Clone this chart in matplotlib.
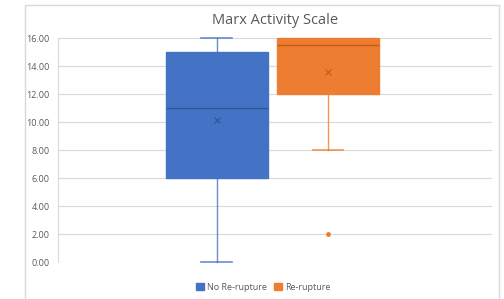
import matplotlib.pyplot as plt
from matplotlib.patches import Rectangle, Patch

groups = ["No Re-rupture", "Re-rupture"]
whisker_low = [0.0, 8.0]
q1 = [6.0, 12.0]
medians = [11.0, 15.5]
q3 = [15.0, 16.0]
whisker_high = [16.0, 16.0]
means = [10.15, 13.6]
outliers = [[], [2.0]]

colors = ["#4472C4", "#ED7D31"]
dark = ["#2F5597", "#C55A11"]
positions = [0.366, 0.622]

plt.rcParams["font.family"] = ["Open Sans", "DejaVu Sans"]

fig = plt.figure(figsize=(5.04, 2.99), dpi=100)
fig.patches.append(Rectangle((25 / 504, -0.05), 474 / 504, 1 - 5 / 299 + 0.05,
                             transform=fig.transFigure, fill=False,
                             edgecolor="#D9D9D9", linewidth=1))
ax = fig.add_axes([58 / 504, 1 - 262 / 299, 434 / 504, 224 / 299])

for i in range(len(groups)):
    stats = [{
        "whislo": whisker_low[i], "q1": q1[i], "med": medians[i],
        "q3": q3[i], "whishi": whisker_high[i], "mean": means[i],
        "fliers": outliers[i],
    }]
    parts = ax.bxp(stats, positions=[positions[i]], widths=0.234, patch_artist=True,
                   showmeans=True, capwidths=0.071,
                   boxprops=dict(facecolor=colors[i], edgecolor=colors[i], linewidth=1),
                   medianprops=dict(color=dark[i], linewidth=1),
                   whiskerprops=dict(color=colors[i], linewidth=1, alpha=0.8),
                   capprops=dict(color=colors[i], linewidth=1.2, alpha=0.8),
                   meanprops=dict(marker="x", markeredgecolor=dark[i], markersize=5,
                                  markeredgewidth=0.8),
                   flierprops=dict(marker="o", markerfacecolor=colors[i],
                                   markeredgecolor=colors[i], markersize=2.5),
                   manage_ticks=False)
    for key in parts:
        for artist in parts[key]:
            artist.set_clip_on(False)
    # Excel hides the whisker when it coincides with the box edge
    if whisker_high[i] <= q3[i]:
        parts["caps"][1].set_visible(False)
        parts["whiskers"][1].set_visible(False)

ax.set_xlim(0, 1)
ax.set_ylim(0, 16)
ax.set_yticks(range(0, 17, 2))
ax.set_yticklabels([f"{v:.2f}" for v in range(0, 17, 2)])
ax.set_xticks([])
ax.tick_params(axis="y", length=0, labelsize=6.5, labelcolor="#595959", pad=6)
ax.grid(axis="y", color="#D9D9D9", linewidth=0.8)
ax.set_axisbelow(True)
for side in ["top", "right", "bottom"]:
    ax.spines[side].set_visible(False)
ax.spines["left"].set_color("#D9D9D9")
ax.spines["left"].set_linewidth(0.8)

fig.text(275 / 504, 1 - 20 / 299, "Marx Activity Scale", ha="center",
         va="center", fontsize=10.5, color="#595959")

handles = [Patch(facecolor=c, edgecolor=c) for c in colors]
fig.legend(handles, groups, loc="center", bbox_to_anchor=(263 / 504, 1 - 287 / 299),
           ncol=2, frameon=False, fontsize=6.5, labelcolor="#595959",
           handlelength=0.9, handleheight=0.9, handletextpad=0.3, columnspacing=0.8)

fig.savefig("out.png", dpi=100)
